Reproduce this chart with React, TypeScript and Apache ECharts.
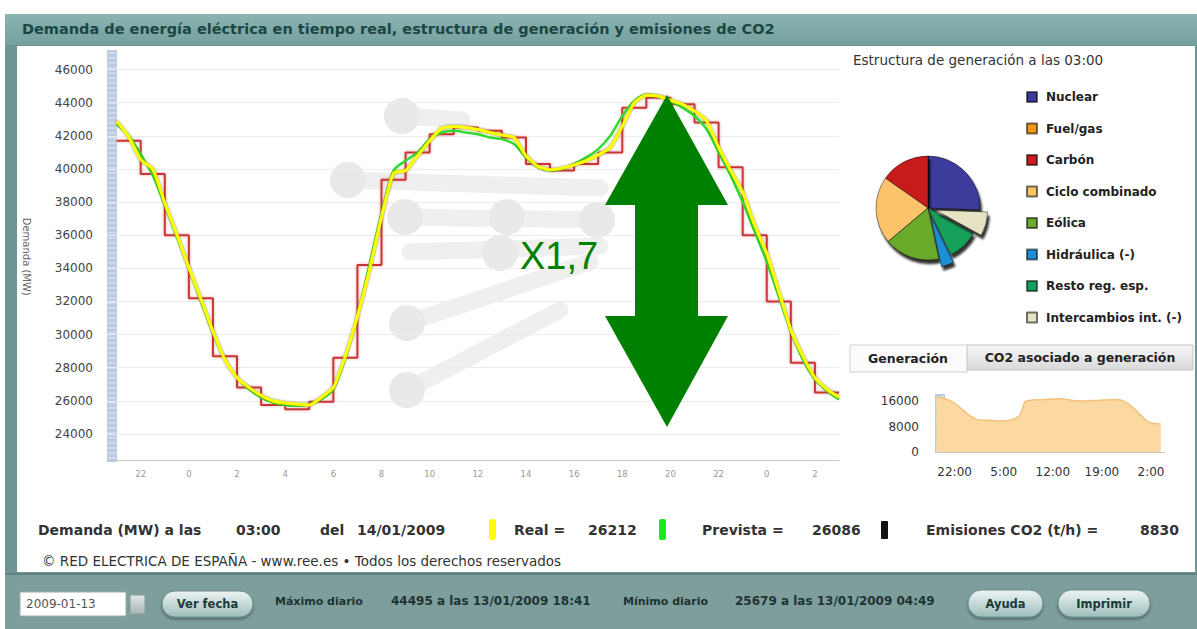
import React, { useEffect, useRef } from "react";
import * as echarts from "echarts";

// ---------- DATA ----------
const HOURS = [-3, -2.5, -2, -1.5, -1, -0.5, 0, 0.5, 1, 1.5, 2, 2.5, 3, 3.5, 4, 4.5, 5, 5.5, 6, 6.5, 7, 7.5, 8, 8.5, 9, 9.5, 10, 10.5, 11, 11.5, 12, 12.5, 13, 13.5, 14, 14.5, 15, 15.5, 16, 16.5, 17, 17.5, 18, 18.5, 19, 19.5, 20, 20.5, 21, 21.5, 22, 22.5, 23, 23.5, 24, 24.5, 25, 25.5, 26, 26.5, 27];
const REAL = [42870, 41950, 40560, 40000, 37950, 36050, 34050, 32150, 30200, 28480, 27400, 26800, 26330, 25990, 25870, 25800, 25750, 26200, 26800, 28700, 31100, 33900, 37100, 39750, 39900, 40800, 41700, 42450, 42570, 42500, 42380, 42200, 42050, 41900, 40800, 40150, 39950, 40050, 40250, 40500, 40850, 41300, 42570, 44000, 44450, 44390, 44150, 43900, 43500, 42900, 41300, 39900, 38600, 36600, 34900, 32600, 30300, 28700, 27400, 26700, 26212];
const PREVISTA = [42700, 42000, 40900, 39600, 37800, 35900, 34000, 32000, 30100, 28500, 27400, 26700, 26200, 25900, 25750, 25700, 25800, 26100, 26700, 28600, 31100, 34200, 37300, 39900, 40500, 41000, 41800, 42200, 42300, 42200, 42100, 41900, 41800, 41500, 40700, 40100, 39900, 40000, 40300, 40700, 41200, 42000, 43200, 44100, 44500, 44400, 44100, 43700, 43200, 42400, 41000, 39600, 38000, 36200, 34400, 32300, 30200, 28500, 27300, 26600, 26086];
const PROG_HOURS = [-3, -2, -1, 0, 1, 2, 3, 4, 5, 6, 7, 8, 9, 10, 11, 12, 13, 14, 15, 16, 17, 18, 19, 20, 21, 22, 23, 24, 25, 26, 27];
const PROGRAMADA = [41700, 39700, 36000, 32200, 28700, 26800, 25750, 25500, 25950, 28600, 34200, 39350, 41000, 42100, 42500, 42300, 41900, 40300, 39900, 40300, 41000, 43700, 44300, 43900, 42800, 40100, 36000, 32000, 28300, 26500];
const X_TICKS = [-2, 0, 2, 4, 6, 8, 10, 12, 14, 16, 18, 20, 22, 24, 26];
const Y_TICKS = [24000, 26000, 28000, 30000, 32000, 34000, 36000, 38000, 40000, 42000, 44000, 46000];

const GEN_NAMES = ["Nuclear", "Fuel/gas", "Carbón", "Ciclo combinado", "Eólica", "Hidráulica (-)", "Resto reg. esp.", "Intercambios int. (-)"];
const GEN_VALUES = [7230, 0, 4320, 5900, 4870, 1100, 2750, 2120];
const GEN_COLORS = ["#3d3a9c", "#f09a1a", "#c81c1c", "#fcc46a", "#6aaa2c", "#1e8fd6", "#16a05a", "#e6e2c4"];
const GEN_EXPLODED = ["Hidráulica (-)", "Intercambios int. (-)"];

const CO2_HOURS = [-4.6, -2.7, -1.3, 0.1, 1.6, 3.0, 4.4, 5.9, 7.3, 8.0, 8.7, 10.1, 13.0, 15.9, 18.4, 21.3, 22.7, 24.1, 25.6, 27.4];
const CO2_VALUES = [17350, 16300, 14200, 11600, 10000, 10000, 9800, 10000, 11600, 15800, 16300, 16500, 16800, 16100, 16300, 16600, 15300, 12600, 9500, 8830];
const CO2_X_TICKS = [-2, 5, 12, 19, 26];
const CO2_Y_TICKS = [0, 8000, 16000];

const CURRENT_TIME = "03:00";
const CURRENT_DATE = "14/01/2009";
const EMISIONES = 8830;
const MAX_TXT = "44495 a las 13/01/2009 18:41";
const MIN_TXT = "25679 a las 13/01/2009 04:49";

const FONT = "'DejaVu Sans', Verdana, sans-serif";

function txt(x: number, y: number, text: string, size: number, opts: any = {}) {
  return {
    type: "text",
    x,
    y,
    z: opts.z ?? 5,
    style: {
      text,
      fontSize: size,
      fontWeight: opts.weight ?? "bold",
      fontFamily: opts.family ?? FONT,
      fill: opts.fill ?? "#333",
      align: opts.align ?? "left",
      verticalAlign: "middle",
    },
  };
}

function grad(c1: string, c2: string) {
  return new echarts.graphic.LinearGradient(0, 0, 0, 1, [
    { offset: 0, color: c1 },
    { offset: 1, color: c2 },
  ]);
}

function button(x: number, y: number, w: number, h: number, label: string) {
  return [
    {
      type: "rect",
      z: 3,
      shape: { x, y, width: w, height: h, r: h / 2 },
      style: { fill: grad("#eef5f4", "#9cbdba"), stroke: "#6b8f8c", lineWidth: 1, shadowBlur: 3, shadowOffsetY: 2, shadowColor: "rgba(0,0,0,0.35)" },
    },
    txt(x + w / 2, y + h / 2, label, 11.5, { align: "center", fill: "#1c3a38", z: 4 }),
  ];
}

function band(x: number, y0: number, y1: number) {
  const els: any[] = [
    { type: "rect", z: 1, shape: { x, y: y0, width: 10, height: y1 - y0 }, style: { fill: "#bccbe4" } },
  ];
  for (let y = y0 + 3; y < y1; y += 5) {
    els.push({ type: "line", z: 1, shape: { x1: x + 1, y1: y, x2: x + 9, y2: y }, style: { stroke: "#e4eaf5", lineWidth: 1 } });
  }
  return els;
}

function watermark() {
  const col = "#efefef";
  const lines = [
    [402, 116, 462, 120],
    [348, 180, 600, 188],
    [405, 217, 597, 220],
    [410, 252, 600, 246],
    [407, 323, 590, 262],
    [407, 390, 560, 310],
  ];
  const circles = [
    [402, 116], [348, 180], [405, 217], [507, 217], [597, 220], [500, 253], [407, 323], [407, 390],
  ];
  const els: any[] = [];
  lines.forEach(([x1, y1, x2, y2]) =>
    els.push({ type: "line", z: -1, shape: { x1, y1, x2, y2 }, style: { stroke: col, lineWidth: 17, lineCap: "round" } })
  );
  circles.forEach(([cx, cy]) =>
    els.push({ type: "circle", z: -1, shape: { cx, cy, r: 18 }, style: { fill: "#e9e9e9" } })
  );
  return els;
}

export default function App() {
  const ref = useRef<HTMLDivElement>(null);
  useEffect(() => {
    if (!ref.current) return;
    const chart = echarts.init(ref.current, null, { renderer: "svg" });

    const realData = HOURS.map((h, i) => [h, REAL[i]]);
    const prevData = HOURS.map((h, i) => [h, PREVISTA[i]]);
    const progData = PROG_HOURS.map((h, i) => [h, PROGRAMADA[Math.min(i, PROGRAMADA.length - 1)]]);
    const co2Data = CO2_HOURS.map((h, i) => [h, CO2_VALUES[i]]);
    const lastReal = REAL[REAL.length - 1];
    const lastPrev = PREVISTA[PREVISTA.length - 1];

    const graphic: any[] = [
      // frame
      { type: "rect", z: -10, shape: { x: 5, y: 14, width: 1192, height: 615 }, style: { fill: "#6d9593" } },
      { type: "rect", z: -9, shape: { x: 5, y: 14, width: 1192, height: 31 }, style: { fill: grad("#8bb4b1", "#74a09d") } },
      { type: "rect", z: -9, shape: { x: 17, y: 46, width: 1178, height: 526 }, style: { fill: "#ffffff" } },
      { type: "rect", z: -9, shape: { x: 5, y: 574, width: 1192, height: 55 }, style: { fill: "#7e9e9c" } },
      { type: "line", z: -8, shape: { x1: 5, y1: 574, x2: 1197, y2: 574 }, style: { stroke: "#5f8280", lineWidth: 2 } },
      txt(22, 29, "Demanda de energía eléctrica en tiempo real, estructura de generación y emisiones de CO2", 14.5, { fill: "#1b4644" }),
      ...watermark(),
      ...band(107, 50, 462),
      ...band(935, 394, 452),
      // right panel
      txt(853, 60, "Estructura de generación a las " + CURRENT_TIME, 13.5, { weight: "normal", fill: "#333" }),
      { type: "rect", z: 3, shape: { x: 967, y: 345, width: 226, height: 25 }, style: { fill: grad("#f7f7f7", "#d9d9d9"), stroke: "#c4c4c4", lineWidth: 1 } },
      { type: "rect", z: 3, shape: { x: 850, y: 345, width: 117, height: 27 }, style: { fill: "#fbfbfb", stroke: "#cfcfcf", lineWidth: 1 } },
      txt(908, 358, "Generación", 12.5, { align: "center", fill: "#222", z: 4 }),
      txt(1080, 357, "CO2 asociado a generación", 12.5, { align: "center", fill: "#222", z: 4 }),
      // info line
      txt(38, 530, "Demanda (MW) a las", 14),
      txt(236, 530, CURRENT_TIME, 14),
      txt(320, 530, "del", 14),
      txt(357, 530, CURRENT_DATE, 14),
      { type: "rect", z: 4, shape: { x: 489, y: 519, width: 7, height: 21, r: 3 }, style: { fill: "#ffff00" } },
      txt(514, 530, "Real =", 14),
      txt(588, 530, String(lastReal), 14),
      { type: "rect", z: 4, shape: { x: 659, y: 519, width: 7, height: 21, r: 2 }, style: { fill: "#1ee81e" } },
      txt(702, 530, "Prevista =", 14),
      txt(812, 530, String(lastPrev), 14),
      { type: "rect", z: 4, shape: { x: 881, y: 521, width: 7, height: 18, r: 1 }, style: { fill: "#111" } },
      txt(926, 530, "Emisiones CO2 (t/h) =", 14),
      txt(1140, 530, String(EMISIONES), 14),
      txt(42, 561, "© RED ELECTRICA DE ESPAÑA - www.ree.es • Todos los derechos reservados", 13.5, { weight: "normal", fill: "#333" }),
      // bottom bar
      { type: "rect", z: 3, shape: { x: 20, y: 592, width: 106, height: 24 }, style: { fill: "#ffffff", stroke: "#9aaeac", lineWidth: 1 } },
      txt(26, 604, "2009-01-13", 12, { weight: "normal", fill: "#555", z: 4 }),
      { type: "rect", z: 3, shape: { x: 130, y: 595, width: 15, height: 19 }, style: { fill: grad("#e0e6e6", "#a8b4b4"), stroke: "#8a9a9a" } },
      ...button(162, 591, 91, 26, "Ver fecha"),
      txt(275, 601, "Máximo diario", 11, { fill: "#1c3434" }),
      txt(391, 601, MAX_TXT, 12, { fill: "#1c3434" }),
      txt(623, 601, "Mínimo diario", 11, { fill: "#1c3434" }),
      txt(735, 601, MIN_TXT, 12, { fill: "#1c3434" }),
      ...button(968, 590, 75, 27, "Ayuda"),
      ...button(1058, 590, 92, 27, "Imprimir"),
      // annotation arrow
      {
        type: "polygon",
        z: 20,
        shape: {
          points: [
            [667, 95], [728, 205], [698, 205], [698, 316], [728, 316], [667, 427],
            [605, 316], [635, 316], [635, 205], [605, 205],
          ],
        },
        style: { fill: "#008000" },
      },
      txt(520, 256, "X1,7", 38, { weight: "normal", family: "'Liberation Sans', Arial, sans-serif", fill: "#008000", z: 20 }),
    ];

    const option: any = {
      animation: false,
      graphic,
      legend: {
        data: GEN_NAMES,
        orient: "vertical",
        left: 1021,
        top: 86,
        itemWidth: 10,
        itemHeight: 10,
        itemGap: 19.5,
        icon: "rect",
        selectedMode: false,
        textStyle: { fontFamily: FONT, fontWeight: "bold", fontSize: 12, color: "#222", lineHeight: 12, padding: [0, 0, 0, 4] },
      },
      grid: [
        { left: 107, top: 53, width: 732, height: 407.5 },
        { left: 935, top: 395, width: 230, height: 57 },
      ],
      xAxis: [
        {
          type: "value",
          gridIndex: 0,
          min: -3.4,
          max: 27,
          axisLine: { show: true, lineStyle: { color: "#c8c8c8" } },
          axisTick: { show: false },
          splitLine: { show: false },
          minorTick: { show: false },
          minorSplitLine: { show: false },
          axisLabel: {
            customValues: X_TICKS,
            formatter: (v: number) => String((v + 24) % 24),
            fontSize: 8.5,
            color: "#999",
            margin: 9,
            fontFamily: FONT,
          },
        },
        {
          type: "value",
          gridIndex: 1,
          min: -4.8,
          max: 28,
          axisLine: { show: true, lineStyle: { color: "#c8c8c8" } },
          axisTick: { show: false },
          splitLine: { show: false },
          axisLabel: {
            customValues: CO2_X_TICKS,
            formatter: (v: number) => ((v + 24) % 24) + ":00",
            fontSize: 12,
            color: "#333",
            margin: 14,
            fontFamily: FONT,
          },
        },
      ],
      yAxis: [
        {
          type: "value",
          gridIndex: 0,
          min: 22400,
          max: 47000,
          offset: 6,
          name: "Demanda (MW)",
          nameLocation: "middle",
          nameRotate: -90,
          nameGap: 70,
          nameTextStyle: { fontSize: 10, color: "#666", fontFamily: FONT },
          axisLine: { show: false },
          axisTick: { show: true, customValues: Y_TICKS, length: 4, lineStyle: { color: "#aaa" } },
          splitLine: { show: false },
          axisLabel: { customValues: Y_TICKS, formatter: (v: number) => String(v), fontSize: 12, color: "#444", margin: 8, fontFamily: FONT },
        },
        {
          type: "value",
          gridIndex: 1,
          min: 0,
          max: 18000,
          axisLine: { show: false },
          axisTick: { show: false },
          splitLine: { show: false },
          axisLabel: { customValues: CO2_Y_TICKS, formatter: (v: number) => String(v), fontSize: 12, color: "#333", margin: 16, fontFamily: FONT },
        },
      ],
      series: [
        {
          type: "line",
          name: "grid",
          xAxisIndex: 0,
          yAxisIndex: 0,
          data: [],
          z: 1,
          markLine: {
            z: 1,
            silent: true,
            symbol: "none",
            label: { show: false },
            lineStyle: { color: "#ececec", width: 1, type: "solid" },
            data: Y_TICKS.map((v) => ({ yAxis: v })),
          },
        },
        {
          type: "line",
          name: "Programada",
          xAxisIndex: 0,
          yAxisIndex: 0,
          data: progData,
          step: "end",
          symbol: "none",
          z: 2,
          lineStyle: { color: "#c83636", width: 2, shadowColor: "rgba(230,120,120,0.7)", shadowBlur: 3 },
        },
        {
          type: "line",
          name: "Prevista",
          xAxisIndex: 0,
          yAxisIndex: 0,
          data: prevData,
          smooth: 0.3,
          symbol: "none",
          z: 3,
          lineStyle: { color: "#2fdc2f", width: 2.5 },
        },
        {
          type: "line",
          name: "Real",
          xAxisIndex: 0,
          yAxisIndex: 0,
          data: realData,
          smooth: 0.2,
          symbol: "none",
          z: 4,
          lineStyle: { color: "#ffff00", width: 3, shadowColor: "rgba(90,90,0,0.8)", shadowBlur: 2 },
        },
        {
          type: "line",
          name: "CO2",
          xAxisIndex: 1,
          yAxisIndex: 1,
          data: co2Data,
          smooth: 0.3,
          symbol: "none",
          lineStyle: { color: "#f2c27a", width: 1.5 },
          areaStyle: { color: "#fcd9a2", opacity: 1 },
        },
        {
          type: "pie",
          name: "Estructura",
          center: [928, 208],
          radius: 52,
          startAngle: -2,
          clockwise: false,
          selectedMode: "multiple",
          selectedOffset: 8,
          label: { show: false },
          labelLine: { show: false },
          emphasis: { disabled: true },
          itemStyle: {
            borderColor: "rgba(0,0,0,0.55)",
            borderWidth: 0.8,
            shadowColor: "rgba(0,0,0,0.8)",
            shadowBlur: 2,
            shadowOffsetX: 2,
            shadowOffsetY: 4,
          },
          data: GEN_NAMES.map((n, i) => ({
            name: n,
            value: GEN_VALUES[i],
            selected: GEN_EXPLODED.includes(n),
            itemStyle: { color: GEN_COLORS[i] },
          })),
        },
      ],
    };
    chart.setOption(option);
    return () => chart.dispose();
  }, []);
  return <div ref={ref} style={{ position: "absolute", left: 0, top: 0, width: 1197, height: 629 }} />;
}
